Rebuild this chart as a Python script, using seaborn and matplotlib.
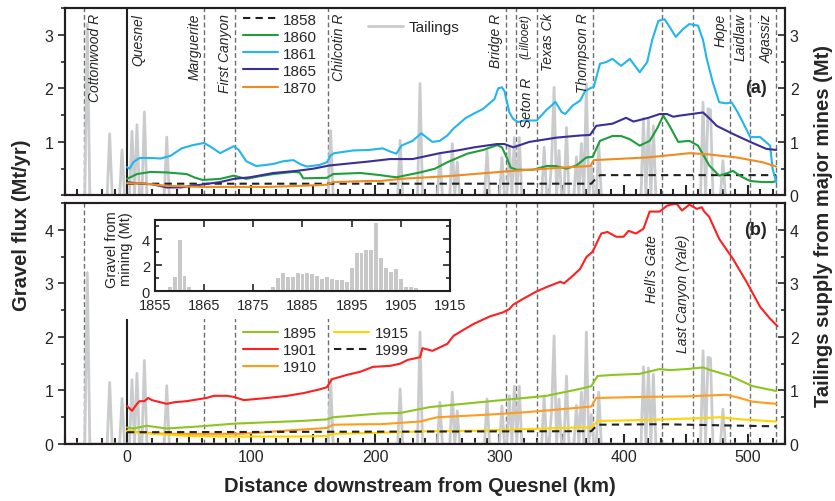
import numpy as np
import matplotlib.pyplot as plt
import seaborn as sns
from matplotlib.patches import Rectangle
from matplotlib.ticker import MultipleLocator, FuncFormatter

sns.set_style('ticks')
plt.rcParams['font.family'] = ['Liberation Sans', 'DejaVu Sans']
plt.rcParams['axes.linewidth'] = 1.5
plt.rcParams['axes.edgecolor'] = '#231f20'

# ---- panel (a): gravel flux (Mt/yr) vs km downstream from Quesnel ----
km_1858 = [0, 374, 377, 381, 523]
flux_1858 = [0.22, 0.22, 0.30, 0.38, 0.38]

km_1860 = [0, 8, 19, 32, 48, 55, 61, 75, 86, 96, 107, 118, 134, 139, 142, 161, 166, 188, 204, 210,
           217, 236, 248, 258, 274, 287, 298, 302, 306, 309, 314, 327, 338, 345, 354, 362, 370, 375,
           381, 391, 398, 405, 413, 421, 427, 432, 437, 444, 453, 460, 469, 477, 484, 488, 495, 502,
           512, 520, 523]
flux_1860 = [0.31, 0.40, 0.44, 0.43, 0.40, 0.33, 0.29, 0.31, 0.37, 0.31, 0.36, 0.40, 0.44, 0.43, 0.32,
             0.33, 0.40, 0.42, 0.38, 0.36, 0.34, 0.43, 0.50, 0.62, 0.78, 0.85, 0.94, 0.90, 0.70, 0.52,
             0.48, 0.48, 0.55, 0.55, 0.50, 0.56, 0.71, 0.72, 1.02, 1.11, 1.11, 1.05, 0.93, 1.02, 1.25,
             1.49, 1.30, 1.00, 1.02, 0.93, 0.56, 0.37, 0.42, 0.46, 0.35, 0.27, 0.25, 0.25, 0.27]

km_1861 = [0, 2, 5, 10, 20, 27, 35, 44, 53, 62, 68, 75, 80, 86, 90, 96, 104, 112, 118, 126, 134, 140,
           145, 155, 161, 164, 167, 182, 195, 206, 212, 217, 221, 230, 237, 246, 252, 258, 263, 273,
           287, 296, 299, 302, 304, 308, 311, 315, 320, 330, 338, 343, 345, 350, 353, 359, 365, 369,
           373, 376, 381, 386, 391, 398, 405, 413, 419, 423, 428, 433, 437, 442, 448, 453, 460, 464,
           467, 472, 477, 483, 487, 492, 496, 502, 510, 516, 518, 520, 523]
flux_1861 = [0.53, 0.50, 0.62, 0.70, 0.70, 0.69, 0.74, 0.88, 0.94, 0.98, 0.90, 0.79, 0.85, 0.92, 0.85,
             0.64, 0.55, 0.57, 0.59, 0.64, 0.66, 0.58, 0.54, 0.57, 0.62, 0.75, 0.79, 0.84, 0.85, 0.88,
             0.82, 0.78, 0.93, 1.02, 1.16, 1.00, 1.02, 1.12, 1.25, 1.45, 1.62, 1.80, 2.00, 2.02, 1.95,
             1.55, 1.43, 1.37, 1.40, 1.40, 1.60, 1.70, 1.75, 1.56, 1.52, 1.68, 1.77, 1.95, 2.00, 2.03,
             2.46, 2.49, 2.55, 2.42, 2.55, 2.30, 2.49, 2.90, 3.26, 3.29, 3.15, 2.96, 3.11, 3.20, 3.17,
             2.90, 2.55, 2.10, 1.74, 1.72, 1.74, 1.55, 1.37, 1.09, 1.09, 0.97, 0.93, 0.50, 0.25]

km_1865 = [0, 10, 20, 32, 43, 59, 75, 86, 99, 118, 137, 150, 163, 180, 193, 212, 230, 252, 266, 280,
           298, 304, 311, 319, 324, 346, 365, 373, 378, 391, 402, 408, 420, 429, 435, 440, 445, 464,
           470, 475, 488, 502, 515, 523]
flux_1865 = [0.25, 0.22, 0.21, 0.15, 0.15, 0.20, 0.25, 0.31, 0.34, 0.42, 0.46, 0.50, 0.56, 0.60, 0.63,
             0.68, 0.68, 0.79, 0.84, 0.90, 0.96, 0.96, 0.90, 0.96, 1.00, 1.08, 1.12, 1.13, 1.30, 1.34,
             1.45, 1.38, 1.45, 1.52, 1.52, 1.47, 1.49, 1.55, 1.42, 1.30, 1.15, 1.00, 0.87, 0.85]

km_1870 = [0, 15, 32, 59, 113, 139, 161, 166, 193, 204, 220, 258, 311, 357, 373, 376, 419, 445, 453,
           467, 491, 512, 523]
flux_1870 = [0.23, 0.22, 0.18, 0.16, 0.16, 0.18, 0.20, 0.25, 0.27, 0.27, 0.31, 0.36, 0.46, 0.53, 0.55,
             0.66, 0.71, 0.77, 0.79, 0.77, 0.71, 0.62, 0.54]

# ---- panel (b) ----
km_1895 = [0, 5, 16, 32, 59, 86, 107, 140, 161, 166, 193, 204, 220, 244, 284, 311, 338, 365, 374, 379,
           391, 413, 429, 437, 451, 464, 470, 486, 504, 523]
flux_1895 = [0.31, 0.29, 0.34, 0.29, 0.33, 0.38, 0.40, 0.43, 0.46, 0.50, 0.55, 0.57, 0.58, 0.69, 0.78,
             0.84, 0.90, 1.03, 1.08, 1.27, 1.29, 1.31, 1.40, 1.38, 1.40, 1.43, 1.38, 1.27, 1.08, 0.99]

km_1901 = [0, 4, 8, 10, 14, 17, 20, 32, 38, 48, 64, 70, 80, 86, 94, 113, 129, 142, 155, 161, 165, 177,
           188, 198, 212, 220, 226, 236, 238, 246, 258, 263, 268, 279, 292, 303, 308, 311, 319, 330,
           340, 349, 352, 359, 365, 370, 375, 382, 387, 394, 400, 404, 410, 416, 421, 429, 435, 440,
           443, 447, 453, 459, 463, 465, 469, 477, 488, 499, 510, 518, 524]
flux_1901 = [0.71, 0.62, 0.75, 0.80, 0.80, 0.86, 0.82, 0.75, 0.78, 0.80, 0.86, 0.90, 0.90, 0.88, 0.82,
             0.86, 0.90, 0.95, 1.02, 1.06, 1.21, 1.29, 1.35, 1.44, 1.46, 1.50, 1.57, 1.62, 1.79, 1.74,
             1.87, 2.02, 2.09, 2.24, 2.38, 2.46, 2.52, 2.60, 2.71, 2.85, 2.95, 3.03, 3.00, 3.14, 3.27,
             3.49, 3.59, 3.93, 3.96, 3.87, 3.87, 3.98, 3.93, 4.02, 4.34, 4.34, 4.45, 4.48, 4.48, 4.36,
             4.47, 4.39, 4.42, 4.34, 4.24, 3.83, 3.46, 3.03, 2.56, 2.34, 2.20]

km_1910 = [0, 10, 32, 91, 113, 121, 161, 166, 193, 204, 236, 250, 284, 306, 324, 350, 374, 378, 416,
           451, 483, 495, 504, 523]
flux_1910 = [0.24, 0.22, 0.19, 0.19, 0.22, 0.24, 0.30, 0.36, 0.37, 0.37, 0.42, 0.50, 0.54, 0.57, 0.60,
             0.65, 0.70, 0.86, 0.88, 0.89, 0.92, 0.85, 0.79, 0.75]

km_1915 = [0, 10, 21, 51, 86, 139, 161, 166, 204, 244, 284, 324, 365, 374, 379, 420, 470, 477, 495, 523]
flux_1915 = [0.25, 0.21, 0.19, 0.15, 0.14, 0.14, 0.15, 0.19, 0.21, 0.24, 0.25, 0.28, 0.31, 0.31, 0.43,
             0.45, 0.49, 0.50, 0.46, 0.42]

km_1999 = [0, 374, 379, 430, 523]
flux_1999 = [0.22, 0.24, 0.36, 0.37, 0.33]

# tailings supply from major mines (Mt), spikes on a 2 km grid
tail_km = [-32, -14, -4, 4, 8, 14, 32, 164, 220, 236, 252, 262, 266, 290, 302, 308, 312, 316, 336,
           342, 344, 348, 354, 362, 366, 370, 374, 380, 416, 420, 424, 464, 468, 470, 480]
tail_mt = [3.2, 1.15, 0.85, 1.2, 1.32, 1.56, 1.09, 1.21, 1.03, 2.09, 0.78, 0.97, 0.62, 0.84, 0.71, 0.9,
           1.08, 1.08, 0.9, 0.62, 2.02, 0.84, 1.27, 0.72, 0.97, 2.09, 0.55, 0.97, 1.44, 1.42, 1.3, 1.74,
           1.62, 1.6, 0.65]

# inset: gravel from mining by year (Mt)
mine_year = list(range(1858, 1909))
mine_mt = [0.3, 1.1, 3.95, 1.2, 0.3, 0.1, 0, 0, 0, 0, 0, 0, 0, 0, 0, 0, 0, 0, 0.05, 0, 0.05, 0.33,
           1.03, 1.41, 1.1, 1.1, 1.4, 1.33, 1.4, 1.28, 1.15, 0.9, 1.1, 0.95, 0.82, 0.82, 0.7, 1.8, 2.95,
           2.95, 3.15, 3.15, 5.26, 2.56, 1.8, 1.5, 1.72, 0.9, 0.33, 0.33, 0.2]

# reach landmarks
site_km = [-35, 62, 87, 162, 305, 313, 330, 375, 431, 456, 486, 502, 523]
a_lab_km = [-35, 0, 62, 87, 162, 305, 330, 375, 486, 502, 523]
a_lab_txt = ['Cottonwood R', 'Quesnel', 'Marguerite', 'First Canyon', 'Chilcotin R', 'Bridge R',
             'Texas Ck', 'Thompson R', 'Hope', 'Laidlaw', 'Agassiz']
a_lab_side = ['r', 'r', 'l', 'l', 'r', 'l', 'r', 'l', 'l', 'l', 'l']
b_lab_km = [431, 456]
b_lab_txt = ['Hell\u2019s Gate', 'Last Canyon (Yale)']

c = {'1858': '#231f20', '1860': '#1f9e3c', '1861': '#22b5ee', '1865': '#3a2f98', '1870': '#f08b1e',
     '1895': '#8dc520', '1901': '#ff1f1f', '1910': '#ff9c1c', '1915': '#ffd500', '1999': '#231f20'}
grey = '#c9cbcd'
dash = (0, (3.5, 2.5))

fig = plt.figure(figsize=(8.35, 5.02), dpi=100)
ax_a = fig.add_axes([0.0778, 0.6086, 0.8623, 0.3735])
ax_b = fig.add_axes([0.0778, 0.1135, 0.8623, 0.4801])

grid = np.arange(-50, 532, 2)
tail = np.zeros(len(grid))
tail[np.searchsorted(grid, tail_km)] = tail_mt


def line(ax, km, v, col, ls='-'):
    sns.lineplot(x=km, y=v, color=col, linewidth=1.5, linestyle=ls, ax=ax, zorder=3)
    return ax.lines[-1]


for ax in (ax_a, ax_b):
    for k in site_km:
        ax.axvline(k, color='#6d6e70', lw=1, linestyle=(0, (3.5, 2)), zorder=1)
    ax.axvline(0, color='#231f20', lw=1.5, zorder=1)
    sns.lineplot(x=grid, y=tail, color=grey, linewidth=2, ax=ax, zorder=2)

tail_h = ax_a.lines[-1]
h_a = [line(ax_a, km_1858, flux_1858, c['1858'], dash),
       line(ax_a, km_1860, flux_1860, c['1860']),
       line(ax_a, km_1861, flux_1861, c['1861']),
       line(ax_a, km_1865, flux_1865, c['1865']),
       line(ax_a, km_1870, flux_1870, c['1870'])]
h_b = [line(ax_b, km_1895, flux_1895, c['1895']),
       line(ax_b, km_1901, flux_1901, c['1901']),
       line(ax_b, km_1910, flux_1910, c['1910']),
       line(ax_b, km_1915, flux_1915, c['1915']),
       line(ax_b, km_1999, flux_1999, c['1999'], dash)]

leg_kw = dict(frameon=False, fontsize=11, handlelength=2.3, handletextpad=0.35, labelspacing=0.2,
              borderpad=0, borderaxespad=0, loc='upper left')
la = ax_a.legend(h_a, ['1858', '1860', '1861', '1865', '1870'], bbox_to_anchor=(0.247, 0.975), **leg_kw)
ax_a.add_artist(la)
ax_a.legend([tail_h], ['Tailings'], bbox_to_anchor=(0.421, 0.935), **leg_kw)
ax_b.legend(h_b, ['1895', '1901', '1910', '1915', '1999'], ncol=2, columnspacing=1.1,
            bbox_to_anchor=(0.247, 0.49), **leg_kw)

# white box behind the inset
ax_b.add_patch(Rectangle((100 / 835, 1 - 320 / 502), 356 / 835, 116 / 502, transform=fig.transFigure,
                         fc='white', ec='none', zorder=4))

for ax, top in ((ax_a, 3.5), (ax_b, 4.5)):
    ax.set_xlim(-50, 530)
    ax.set_ylim(0, top)
    ax.set_xlabel('')
    ax.set_ylabel('')
    ax.xaxis.set_major_locator(MultipleLocator(50))
    ax.xaxis.set_minor_locator(MultipleLocator(10))
    ax.yaxis.set_minor_locator(MultipleLocator(0.5))
    ax.tick_params(axis='x', which='major', direction='in', length=7, width=1.5, labelsize=11.5)
    ax.tick_params(axis='x', which='minor', direction='in', length=4, width=1.5)
    ax.tick_params(axis='y', which='major', direction='out', length=5, width=1.2, labelsize=11.5)
    ax.tick_params(axis='y', which='minor', direction='out', length=3, width=1.2)
    tw = ax.twinx()
    tw.set_ylim(0, top)
    tw.set_yticks(range(0, int(top) + 1))
    tw.yaxis.set_minor_locator(MultipleLocator(0.5))
    tw.tick_params(axis='y', which='major', direction='in', length=5, width=1.2, labelsize=11.5)
    tw.tick_params(axis='y', which='minor', direction='in', length=3, width=1.2)

ax_a.set_yticks([1, 2, 3])
ax_a.tick_params(axis='x', labelbottom=False)
ax_b.set_yticks([0, 1, 2, 3, 4])
ax_b.xaxis.set_major_formatter(FuncFormatter(lambda v, p: f'{v:.0f}' if v % 100 == 0 else ''))

for k, t, s in zip(a_lab_km, a_lab_txt, a_lab_side):
    ax_a.annotate(t, (k, 3.41), xytext=(3 if s == 'r' else -2, 0), textcoords='offset points',
                  rotation=90, ha='left' if s == 'r' else 'right', va='top', fontsize=10, style='italic')
ax_a.annotate('(Lillooet)', (313, 3.41), xytext=(3, 0), textcoords='offset points', rotation=90,
              ha='left', va='top', fontsize=8.5, style='italic')
ax_a.annotate('Seton R', (313, 2.21), xytext=(3, 0), textcoords='offset points', rotation=90,
              ha='left', va='top', fontsize=10, style='italic')
for k, t in zip(b_lab_km, b_lab_txt):
    ax_b.annotate(t, (k, 3.92), xytext=(-2, 0), textcoords='offset points', rotation=90,
                  ha='right', va='top', fontsize=10, style='italic')

ax_a.text(0.975, 0.578, '(a)', transform=ax_a.transAxes, ha='right', va='center', fontsize=13,
          fontweight='bold')
ax_b.text(0.975, 0.892, '(b)', transform=ax_b.transAxes, ha='right', va='center', fontsize=13,
          fontweight='bold')

# inset
axi = fig.add_axes([0.1856, 0.4183, 0.3533, 0.1414])
sns.histplot(x=mine_year, weights=mine_mt, discrete=True, shrink=0.8, color='#c8c8c8',
             edgecolor='none', alpha=1, ax=axi)
axi.set_xlim(1855, 1915)
axi.set_ylim(0, 5.5)
axi.set_xticks(range(1855, 1916, 10))
axi.set_yticks([0, 2, 4])
axi.yaxis.set_minor_locator(MultipleLocator(1))
axi.tick_params(which='both', direction='in', top=True, right=True, labelsize=10.5, width=1.2)
axi.tick_params(which='major', length=5)
axi.tick_params(which='minor', length=3)
axi.tick_params(axis='x', pad=5)
axi.set_xlabel('')
axi.set_ylabel('Gravel from\nmining (Mt)', fontsize=10.5, linespacing=1.0)
axi.yaxis.set_label_coords(-0.075, 0.6)
axi.yaxis.label.set_va('bottom')

fig.text(0.503, 0.030, 'Distance downstream from Quesnel (km)', ha='center', va='center',
         fontsize=14.5, fontweight='bold')
fig.text(0.026, 0.552, 'Gravel flux (Mt/yr)', rotation=90, ha='center', va='center',
         fontsize=14.5, fontweight='bold')
fig.text(0.986, 0.549, 'Tailings supply from major mines (Mt)', rotation=90, ha='center',
         va='center', fontsize=14.5, fontweight='bold')

fig.savefig('out.png', dpi=100)
